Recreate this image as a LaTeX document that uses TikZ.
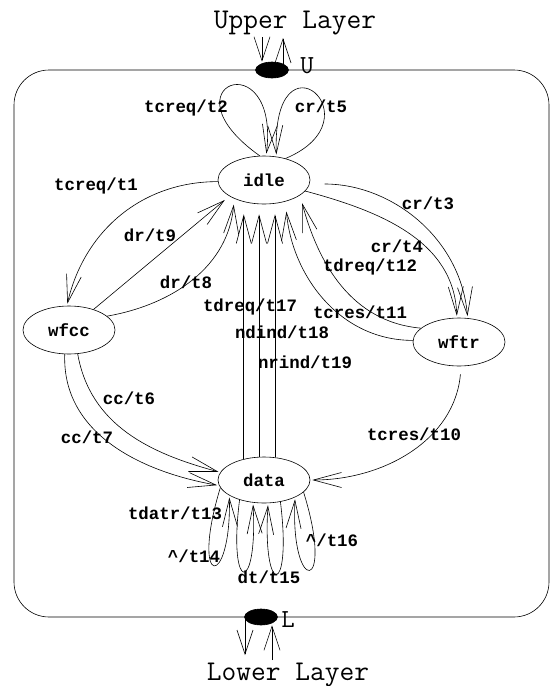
\documentclass[tikz,border=0pt]{standalone}
\usepackage{fontspec}
\setmonofont{Liberation Mono}
\newfontfamily\layerfam{Latin Modern Mono}
\newcommand{\lbf}{\ttfamily\bfseries\fontsize{17.4}{18}\selectfont}
\newcommand{\layerf}{\layerfam\fontsize{28.6}{29}\selectfont}
\newcommand{\portf}{\layerfam\fontsize{26}{27}\selectfont}
\usepackage{tikz}
\usetikzlibrary{arrows.meta,automata,shapes.geometric}

\begin{document}
\begin{tikzpicture}[->,>={Straight Barb[length=28pt,width=15pt]}
  ,shorten >=2pt
  ,x=1pt,y=1pt
  ,semithick]
  \tikzstyle{every state}=[draw,ellipse,minimum width=92pt,
  minimum height=48pt,inner sep=0pt,font=\lbf]
  \tikzstyle{lbl}=[inner sep=0pt,font=\lbf]
  \tikzstyle{port}=[draw,fill=black,ellipse,minimum width=33pt,
  minimum height=16pt,inner sep=0pt]
  \tikzstyle{layer}=[inner sep=0pt,font=\layerf]
  \tikzstyle{portname}=[inner sep=0pt,font=\portf]
  \tikzstyle{portarrow}=[shorten >=0pt,>={Straight Barb[length=24pt,width=16pt]}]

  \useasboundingbox (0,0) rectangle (550,-686);

  % frame with the two ports
  \draw[-,rounded corners=35pt] (14,-70) rectangle (549,-617);
  \node[port] (pu) at (272,-70) {};
  \node[port] (pl) at (261,-617) {};
  \node[portname] (ulbl) at (307,-66) {U};
  \node[portname] (llbl) at (288,-620) {L};
  \node[layer,anchor=base] (upper) at (295,-28) {Upper Layer};
  \node[layer,anchor=base] (lower) at (288,-680) {Lower Layer};
  \coordinate (uin) at (262,-37);
  \coordinate (uout) at (283,-38);
  \coordinate (lout) at (245,-655);
  \coordinate (lin) at (272,-660);
  \draw[portarrow] (uin) -- (uin |- pu.north);
  \draw[portarrow] (uout |- pu.center) -- (uout);
  \draw[portarrow] (lout |- pl.center) -- (lout);
  \draw[portarrow] (lin) -- (lin |- pl.south);

  % 4 states
  \node[state] (idle) at (264,-180) {idle};
  \node[state] (wfcc) at (69,-330) {wfcc};
  \node[state] (wftr) at (459,-342) {wftr};
  \node[state,minimum height=46pt] (data) at (264,-480) {data};

  % idle loops
  \draw (idle.100) .. controls +(-100,71) and +(14,115) .. (idle.85);
  \draw (idle.45) .. controls +(95,40) and +(-5,132) .. (idle.62);

  \path
  (idle.182) edge[out=180,in=77] (wfcc.95)
  (wfcc.40) edge[shorten >=6pt] (idle.205)
  (wfcc.20) edge[out=10,in=-95,shorten >=6pt] (idle.212)
  (wfcc.-70) edge[out=-80,in=165] (data.170)
  (wfcc.-100) edge[out=-92,in=170] (data.187)
  (idle.-5) edge[out=0,in=95,shorten <=15pt] (wftr.70)
  (idle.-15) edge[out=-15,in=92] (wftr.95)
  (wftr.160) edge[out=175,in=-75,shorten >=8pt] (idle.-23)
  (wftr.178) edge[out=180,in=-85,shorten >=10pt] (idle.-45)
  (wftr.-85) edge[out=-95,in=0,shorten <=8pt] (data.east);

  % data -> idle
  \path[shorten >=10pt]
  (data.134) edge (data.134 |- idle.south)
  (data.102) edge (data.102 |- idle.south)
  (data.64) edge (data.64 |- idle.south);

  % data loops
  \draw (data.190) .. controls +(-31,-102) and +(2,-95) .. (data.204);
  \draw (data.219) .. controls +(-12,-95) and +(5,-93) .. (data.244);
  \draw (data.-53) .. controls +(12,-96) and +(-6,-95) .. (data.-80);
  \draw (data.-17) .. controls +(32,-103) and +(-5,-98) .. (data.-29);

  % labels
  \node[lbl] (lt2) at (186,-108) {tcreq/t2};
  \node[lbl] (lt5) at (321,-106) {cr/t5};
  \node[lbl] (lt1) at (96,-186) {tcreq/t1};
  \node[lbl] (lt9) at (150,-235) {dr/t9};
  \node[lbl] (lt8) at (186,-282) {dr/t8};
  \node[lbl] (lt17) at (250,-307) {tdreq/t17};
  \node[lbl] (lt18) at (282,-332) {ndind/t18};
  \node[lbl] (lt19) at (305,-362) {nrind/t19};
  \node[lbl] (lt3) at (428,-203) {cr/t3};
  \node[lbl] (lt4) at (397,-246) {cr/t4};
  \node[lbl] (lt12) at (370,-267) {tdreq/t12};
  \node[lbl] (lt11) at (360,-312) {tcres/t11};
  \node[lbl] (lt6) at (129,-398) {cc/t6};
  \node[lbl] (lt7) at (87,-437) {cc/t7};
  \node[lbl] (lt10) at (414,-434) {tcres/t10};
  \node[lbl] (lt13) at (175,-513) {tdatr/t13};
  \node[lbl] (lt14) at (194,-556) {\textasciicircum/t14};
  \node[lbl] (lt15) at (269,-577) {dt/t15};
  \node[lbl] (lt16) at (332,-540) {\textasciicircum/t16};

\end{tikzpicture}
\end{document}
